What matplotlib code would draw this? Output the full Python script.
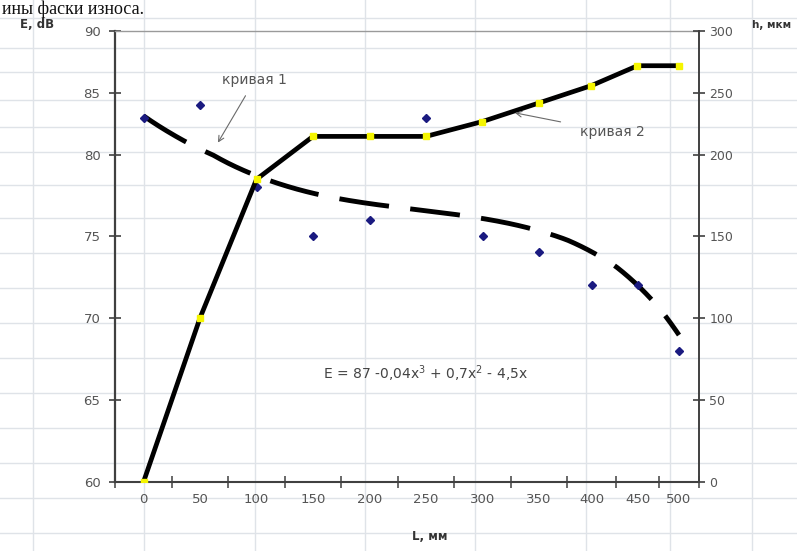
import numpy as np
import matplotlib
matplotlib.use("Agg")
import matplotlib.pyplot as plt
from matplotlib.lines import Line2D

# ---------------- data ----------------
L_labels = ['0', '50', '100', '150', '200', '250', '300', '350', '400', '450', '500']
E_db = [83, 84, 78, 75, 76, 83, 75, 74, 72, 72, 68]               # series 1 (left axis)
h_um = [0, 100, 185, 215, 215, 215, 227, 242, 256, 272, 272]     # series 2 (right axis)
E_ticks = [60, 65, 70, 75, 80, 85, 90]
h_ticks = [0, 50, 100, 150, 200, 250, 300]
# displayed polynomial trend of series 1: E = 87 - 0.04x^3 + 0.7x^2 - 4.5x (x = point number)
trend_coef = [-0.04, 0.7, -4.5, 87]

# ---------------- layout (the reference screenshot is unevenly stretched) ----------------
W, H = 797, 551
x_bounds_px = [115, 172, 228, 285, 341, 398, 454, 511, 567, 616, 659, 699]
y_ticks_px = [482, 400, 318, 236, 155, 93, 31]
ypos = H - np.array(y_ticks_px, dtype=float)

fig = plt.figure(figsize=(W / 100, H / 100), dpi=100)
fig.patch.set_facecolor('white')

# spreadsheet cell lines behind the chart
grid_c = '#dfe3e8'
for xv in [33, 144, 255, 365, 475, 586, 670, 752]:
    fig.add_artist(Line2D([xv / W, xv / W], [0, 1], transform=fig.transFigure,
                          color=grid_c, lw=1, zorder=-5))
for yv in [18, 48, 72, 100, 127, 152, 185, 218, 253, 288, 323, 358, 393, 428, 463, 498, 533]:
    fig.add_artist(Line2D([0, 1], [1 - yv / H, 1 - yv / H], transform=fig.transFigure,
                          color=grid_c, lw=1, zorder=-5))

ax = fig.add_axes([115 / W, (H - 482) / H, (699 - 115) / W, (482 - 31) / H])
ax.patch.set_visible(False)

xb = np.arange(len(L_labels) + 1) - 0.5
xf = lambda v: np.interp(v, xb, x_bounds_px)
xi = lambda p: np.interp(p, x_bounds_px, xb)
yf = lambda v: np.interp(v, E_ticks, ypos)
yi = lambda p: np.interp(p, ypos, E_ticks)
hf = lambda v: np.interp(v, h_ticks, ypos)
hi = lambda p: np.interp(p, ypos, h_ticks)

ax.set_xscale('function', functions=(xf, xi))
ax.set_yscale('function', functions=(yf, yi))
ax.set_xlim(xb[0], xb[-1])
ax.set_ylim(E_ticks[0], E_ticks[-1])

ax2 = ax.twinx()
ax2.patch.set_visible(False)
ax2.set_xscale('function', functions=(xf, xi))
ax2.set_yscale('function', functions=(hf, hi))
ax2.set_xlim(xb[0], xb[-1])
ax2.set_ylim(h_ticks[0], h_ticks[-1])

xc = np.arange(len(L_labels))

# series 1 points + trend line
ax.plot(xc, E_db, linestyle='none', marker='D', markersize=4.5,
        color='#1a1a80', zorder=3)
xt = np.linspace(1, len(L_labels), 300)
ax.plot(xt - 1, np.polyval(trend_coef, xt), color='black', lw=3.5,
        dashes=(10.3, 4.4), solid_capstyle='butt', dash_capstyle='butt', zorder=2)

# series 2 line with yellow markers
ax2.plot(xc, h_um, color='black', lw=3.4, zorder=3, solid_joinstyle='round')
ax2.plot(xc, h_um, linestyle='none', marker='s', markersize=5,
         color='#f5f500', markeredgecolor='#f5f500', zorder=4)

# axes styling
axis_c = '#404040'
lab_c = '#555555'
ax.spines['right'].set_visible(False)
ax.spines['left'].set_color(axis_c)
ax.spines['left'].set_linewidth(1.6)
ax.spines['bottom'].set_color(axis_c)
ax.spines['bottom'].set_linewidth(1.5)
ax.spines['top'].set_color('#9a9a9a')
ax.spines['top'].set_linewidth(1.0)
for s in ['left', 'top', 'bottom']:
    ax2.spines[s].set_visible(False)
ax2.spines['right'].set_color(axis_c)
ax2.spines['right'].set_linewidth(1.4)

ax.set_xticks(xb)
ax.set_xticklabels([])
ax.set_xticks(xc, minor=True)
ax.set_xticklabels(L_labels, minor=True)
ax.tick_params(axis='x', which='major', direction='inout', length=8, width=1.1, color=axis_c)
ax.tick_params(axis='x', which='minor', length=0, pad=8, labelsize=9.5, labelcolor=lab_c)
ax.set_yticks(E_ticks)
ax.set_yticklabels([str(v) for v in E_ticks])
ax.tick_params(axis='y', direction='inout', length=9, width=1.2, color=axis_c,
               pad=6, labelsize=9.5, labelcolor=lab_c)
ax.yaxis.set_minor_locator(matplotlib.ticker.NullLocator())
ax2.set_yticks(h_ticks)
ax2.set_yticklabels([str(v) for v in h_ticks])
ax2.yaxis.set_minor_locator(matplotlib.ticker.NullLocator())
ax2.tick_params(axis='y', direction='inout', length=9, width=1.2, color=axis_c,
                pad=3, labelsize=9, labelcolor=lab_c)
ax2.tick_params(axis='x', which='both', length=0, labelbottom=False)

# axis titles
fig.text(20 / W, 1 - 25 / H, 'E, dB', ha='left', va='center', fontsize=8.5,
         fontweight='bold', color='#333333')
fig.text(752 / W, 1 - 25 / H, 'h, мкм', ha='left', va='center', fontsize=7.5,
         fontweight='bold', color='#333333')
fig.text(430 / W, 1 - 537 / H, 'L, мм', ha='center', va='center', fontsize=8.5,
         fontweight='bold', color='#333333')

# document text above the chart
fig.text(2 / W, 1 - 1 / H, 'ины фаски износа.', ha='left', va='top',
         fontsize=13, family='Liberation Serif', color='#111111')

# annotations
ax.annotate('кривая 1', xy=(1.32, 81.0), xytext=(1.97, 86.05), ha='center', va='center',
            fontsize=10, color=lab_c,
            arrowprops=dict(arrowstyle='->', color='#6a6a6a', lw=0.8, shrinkA=5, shrinkB=0))
ax2.annotate('кривая 2', xy=(6.57, 234), xytext=(8.42, 218.5), ha='center', va='center',
             fontsize=10, color=lab_c,
             arrowprops=dict(arrowstyle='->', color='#6a6a6a', lw=0.8, shrinkA=12, shrinkB=0))

ax.text(5.0, 66.6, r'E = 87 -0,04x$^{3}$ + 0,7x$^{2}$ - 4,5x', ha='center', va='center',
        fontsize=10, color='#444444')

fig.savefig('out.png', dpi=100, facecolor='white')
